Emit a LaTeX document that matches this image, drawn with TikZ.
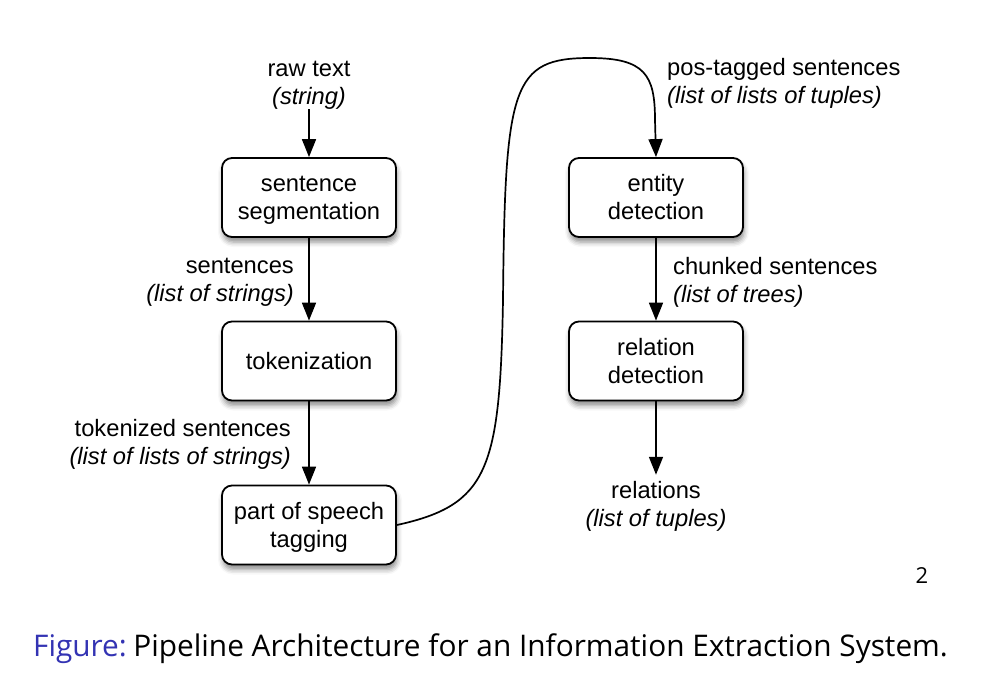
\documentclass[tikz,border=0pt]{standalone}
\usepackage{fontspec}
\setmainfont{Liberation Sans}
\newfontfamily\capfont{Open Sans}
\usetikzlibrary{arrows.meta,shadows.blur}
\definecolor{capblue}{RGB}{51,51,179}
\newcommand{\boxtext}[1]{\raisebox{-2.5pt}[\height][\depth]{\begin{tabular}{@{}c@{}}#1\end{tabular}}}
\begin{document}
\begin{tikzpicture}[x=1pt,y=-1pt,
  every node/.style={inner sep=0pt},
  txt/.style={font=\fontsize{23.7}{28}\selectfont, align=center},
  stage/.style={txt, draw=black, line width=1.8pt, rounded corners=10pt, fill=white,
    minimum width=174pt, minimum height=79pt,
    blur shadow={shadow xshift=1pt, shadow yshift=-5pt, shadow blur radius=5pt, shadow opacity=45}},
  arr/.style={line width=1.7pt, -{Triangle[length=18pt,width=14pt]}}
]
\useasboundingbox (0,0) rectangle (990,694);
% stages
\node[stage] (seg) at (309,197.5) {\boxtext{sentence\\segmentation}};
\node[stage] (tok) at (309,361) {\boxtext{tokenization}};
\node[stage] (pos) at (309,525) {\boxtext{part of speech\\tagging}};
\node[stage] (ent) at (656,197.5) {\boxtext{entity\\detection}};
\node[stage] (rel) at (656,361) {\boxtext{relation\\detection}};
% labels
\node[txt, anchor=center] (raw) at (309,85) {raw text\\\textit{(string)}};
\node[txt, align=right, anchor=east] (sents) at (294,282) {sentences\\\textit{(list of strings)}};
\node[txt, align=right, anchor=east] (toks) at (291,444) {tokenized sentences\\\textit{(list of lists of strings)}};
\node[txt, align=left, anchor=west] (posl) at (667,83) {pos-tagged sentences\\\textit{(list of lists of tuples)}};
\node[txt, align=left, anchor=west] (chunk) at (673,282) {chunked sentences\\\textit{(list of trees)}};
\node[txt, anchor=center] (relout) at (656,506) {relations\\\textit{(list of tuples)}};
% arrows
\draw[arr] (raw) -- (seg);
\draw[arr] (seg) -- (tok);
\draw[arr] (tok) -- (pos);
\draw[arr] (ent) -- (rel);
\draw[arr, shorten >=6pt] (rel) -- (relout);
\draw[arr] (pos.east) .. controls (488,505) and (500,470) .. (503,300)
  .. controls (505,85) and (512,58) .. (590,58)
  .. controls (645,58) and (655,75) .. (655,120) -- (ent.north);
% page number and caption
\node[font=\capfont\fontsize{22}{26}\selectfont, anchor=center] (pg) at (922,576) {2};
\node[font=\capfont\fontsize{29.8}{34}\selectfont, anchor=base] (cap) at (490.5,656) {\textcolor{capblue}{Figure:}\hspace{0.22em}Pipeline Architecture for an Information Extraction System.};
\end{tikzpicture}
\end{document}
